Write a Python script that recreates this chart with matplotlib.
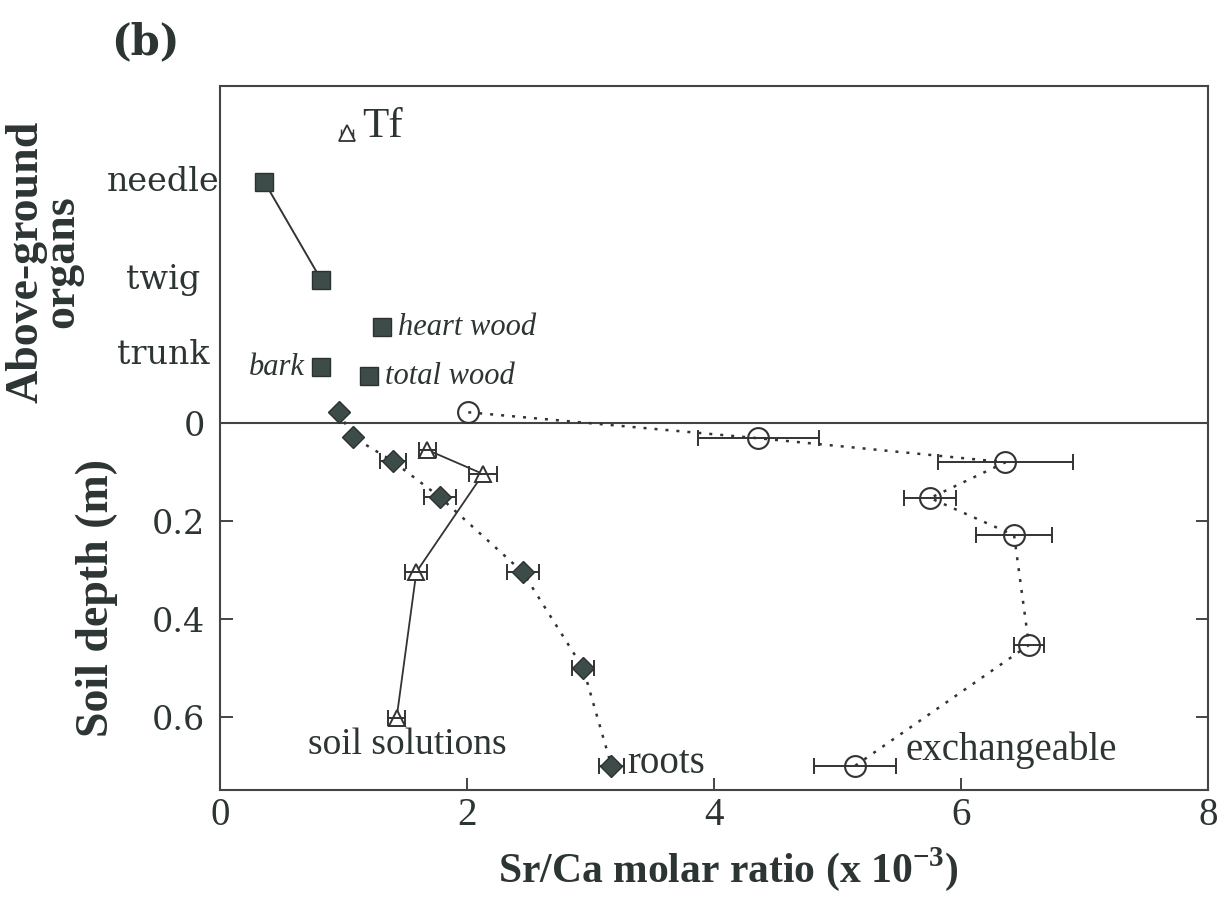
import matplotlib
matplotlib.use('Agg')
import matplotlib.pyplot as plt
import matplotlib.transforms as mtransforms

# ---------------- data ----------------
# Above-ground organs: Sr/Ca ratio (x1e-3) and their level on the organ scale
organ_names = ['needle', 'twig', 'heart wood', 'bark', 'total wood']
organ_ratio = [0.36, 0.82, 1.31, 0.82, 1.21]
organ_level = [0.492, 0.292, 0.196, 0.114, 0.096]

tf_ratio = [1.03]
tf_level = [0.592]
tf_err = [0.05]

organ_tick_labels = ['needle', 'twig', 'trunk']
organ_tick_levels = [0.492, 0.292, 0.139]

# Soil profile (depth in m, negative = litter above the soil surface)
roots_depth = [-0.022, 0.029, 0.078, 0.151, 0.304, 0.50, 0.70]
roots_ratio = [0.96, 1.08, 1.40, 1.78, 2.45, 2.94, 3.17]
roots_err = [0, 0, 0.105, 0.13, 0.13, 0.09, 0.10]

sol_depth = [0.055, 0.104, 0.304, 0.602]
sol_ratio = [1.68, 2.13, 1.59, 1.43]
sol_err = [0.07, 0.11, 0.09, 0.07]

exch_depth = [-0.022, 0.031, 0.080, 0.153, 0.229, 0.453, 0.70]
exch_ratio = [2.01, 4.36, 6.36, 5.75, 6.43, 6.55, 5.14]
exch_err = [0, 0.49, 0.55, 0.21, 0.31, 0.12, 0.33]

depth_ticks = [0, 0.2, 0.4, 0.6]
depth_tick_labels = ['0', '0.2', '0.4', '0.6']
x_ticks = [0, 2, 4, 6, 8]

# ---------------- style ----------------
INK = '#2c3434'
FILL = '#3d4b49'
LINE = '#333333'
SERIF = 'Liberation Serif'
plt.rcParams['font.family'] = SERIF
plt.rcParams['mathtext.fontset'] = 'custom'
plt.rcParams['mathtext.rm'] = 'Liberation Serif:bold'
plt.rcParams['mathtext.bf'] = 'Liberation Serif:bold'

W, H = 1224, 898
fig = plt.figure(figsize=(W / 100, H / 100), dpi=100)
ax = fig.add_axes([220 / W, 1 - 790 / H, 988 / W, (790 - 86) / H])

ax.set_xlim(0, 8)
ax.set_ylim(-0.749, 0.688)

for s in ax.spines.values():
    s.set_color('#444444')
    s.set_linewidth(1.5)

ax.axhline(0, color='#444444', lw=1.5, zorder=1)

dotted = (0, (1.2, 3.2))
eb_kw = dict(fmt='none', ecolor=LINE, elinewidth=1.4, capsize=6,
             capthick=1.4, zorder=2.5)


def err_subset(xs, ds, es):
    sel = [(x, -d, e) for x, d, e in zip(xs, ds, es) if e > 0]
    return [s[0] for s in sel], [s[1] for s in sel], [s[2] for s in sel]


# above-ground organs
ax.plot(organ_ratio[:2], organ_level[:2], color=LINE, lw=1.4, zorder=2)
ax.plot(organ_ratio, organ_level, 's', ms=13, mfc=FILL, mec='#2a3332', mew=1,
        ls='none', zorder=3)
ax.errorbar(tf_ratio, tf_level, xerr=tf_err, fmt='none', ecolor=LINE,
            elinewidth=1, capsize=3, zorder=2.5)
ax.plot(tf_ratio, tf_level, '^', ms=11, mfc='white', mec=LINE, mew=1.3,
        zorder=3)

# roots
ax.plot(roots_ratio, [-d for d in roots_depth], color=LINE, ls=dotted,
        lw=1.8, zorder=2)
ax.errorbar(*err_subset(roots_ratio, roots_depth, roots_err)[:2],
            xerr=err_subset(roots_ratio, roots_depth, roots_err)[2], **eb_kw)
ax.plot(roots_ratio, [-d for d in roots_depth], 'D', ms=11, mfc=FILL,
        mec='#2a3332', mew=1, ls='none', zorder=3)

# soil solutions
ax.plot(sol_ratio, [-d for d in sol_depth], color=LINE, ls='-', lw=1.3,
        zorder=2)
ax.plot(sol_ratio, [-d for d in sol_depth], '^', ms=12, mfc='white',
        mec=LINE, mew=1.4, ls='none', zorder=2.4)
ax.errorbar(*err_subset(sol_ratio, sol_depth, sol_err)[:2],
            xerr=err_subset(sol_ratio, sol_depth, sol_err)[2], **eb_kw)

# exchangeable
ax.plot(exch_ratio, [-d for d in exch_depth], color=LINE, ls=dotted,
        lw=1.8, zorder=2)
ax.errorbar(*err_subset(exch_ratio, exch_depth, exch_err)[:2],
            xerr=err_subset(exch_ratio, exch_depth, exch_err)[2], **eb_kw)
ax.plot(exch_ratio, [-d for d in exch_depth], 'o', ms=15, mfc='none',
        mec=LINE, mew=1.5, ls='none', zorder=3)

# ticks
ax.set_xticks(x_ticks)
ax.set_xticklabels([str(t) for t in x_ticks])
ax.set_yticks([-d for d in depth_ticks])
ax.set_yticklabels(depth_tick_labels)
ax.tick_params(axis='x', direction='in', length=9, width=1.4, color='#444444',
               labelsize=28, pad=5, labelcolor=INK, top=False)
ax.tick_params(axis='y', direction='in', length=9, width=1.4, color='#444444',
               labelsize=24, pad=11, labelcolor=INK, right=True)
for lab in ax.get_yticklabels():
    lab.set_family('DejaVu Serif')

# organ names on the left
tr = mtransforms.blended_transform_factory(ax.transAxes, ax.transData)
for name, lev in zip(organ_tick_labels, organ_tick_levels):
    ax.text(-57 / 988, lev, name, transform=tr, ha='center', va='center',
            fontsize=24, family='DejaVu Serif', color=INK)

# point labels
ax.text(1.15, 0.604, 'Tf', fontsize=31, color=INK, va='center', ha='left')
ax.text(1.44, 0.196, 'heart wood', fontsize=22, style='italic', color=INK,
        va='center', ha='left')
ax.text(1.34, 0.096, 'total wood', fontsize=22, style='italic', color=INK,
        va='center', ha='left')
ax.text(0.69, 0.114, 'bark', fontsize=22, style='italic', color=INK,
        va='center', ha='right')
ax.text(1.52, -0.657, 'soil solutions', fontsize=27, color=INK,
        va='center', ha='center')
ax.text(3.30, -0.694, 'roots', fontsize=28, color=INK, va='center', ha='left')
ax.text(5.55, -0.667, 'exchangeable', fontsize=28, color=INK,
        va='center', ha='left')

# axis titles
fig.text(145 / W, 1 - 42 / H, '(b)', fontsize=30, fontweight='bold',
         family='DejaVu Serif', color=INK, ha='center', va='center')
fig.text(44 / W, 1 - 262 / H, 'Above-ground\norgans', rotation=90,
         fontsize=33, fontweight='bold', color=INK, ha='center', va='center',
         multialignment='center', linespacing=0.8)
fig.text(97 / W, 1 - 598 / H, 'Soil depth (m)', rotation=90, fontsize=33,
         fontweight='bold', color=INK, ha='center', va='center')
fig.text(728 / W, 1 - 882 / H, r'Sr/Ca molar ratio (x 10$^{\mathbf{-3}}$)',
         fontsize=30, fontweight='bold', color=INK, ha='center',
         va='baseline')

fig.savefig('out.png', dpi=100, facecolor='white')
